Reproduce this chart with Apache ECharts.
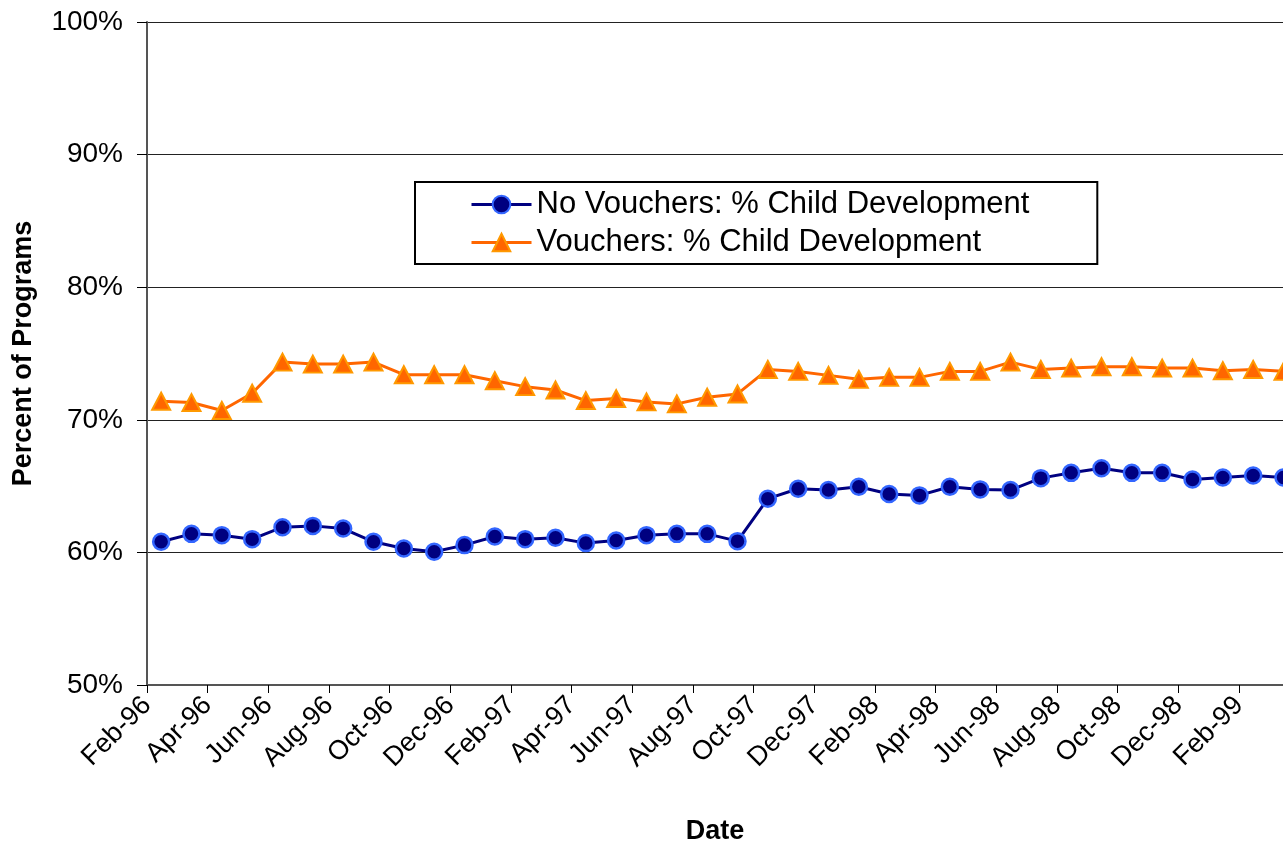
<!DOCTYPE html>
<html>
<head>
<meta charset="utf-8">
<script src="https://cdn.jsdelivr.net/npm/echarts@6/dist/echarts.min.js"></script>
<style>
  html, body { margin: 0; padding: 0; background: #fff; }
  #chart { width: 1283px; height: 848px; }
</style>
</head>
<body>
<div id="chart"></div>
<script>
// one point per month, plotted around the 15th
const months = [
  '1996-02', '1996-03', '1996-04', '1996-05', '1996-06', '1996-07', '1996-08', '1996-09', '1996-10', '1996-11', '1996-12',
  '1997-01', '1997-02', '1997-03', '1997-04', '1997-05', '1997-06', '1997-07', '1997-08', '1997-09', '1997-10', '1997-11', '1997-12',
  '1998-01', '1998-02', '1998-03', '1998-04', '1998-05', '1998-06', '1998-07', '1998-08', '1998-09', '1998-10', '1998-11', '1998-12',
  '1999-01', '1999-02', '1999-03'
]
const noVouchers = [
  60.8, 61.4, 61.3, 61.0, 61.9, 62.0, 61.8, 60.8, 60.3, 60.05,
  60.55, 61.2, 61.0, 61.1, 60.7, 60.9, 61.3, 61.4, 61.4, 60.85,
  64.05, 64.8, 64.7, 64.95, 64.4, 64.3, 64.95, 64.75, 64.7, 65.6,
  66.0, 66.35, 66.0, 66.0, 65.5, 65.65, 65.8, 65.65
]
const vouchers = [
  71.4, 71.3, 70.7, 72.0, 74.35, 74.2, 74.2, 74.35, 73.4, 73.4,
  73.4, 72.95, 72.5, 72.25, 71.45, 71.6, 71.35, 71.2, 71.7, 71.95,
  73.8, 73.65, 73.35, 73.05, 73.2, 73.2, 73.65, 73.65, 74.35, 73.8,
  73.9, 74.0, 74.0, 73.9, 73.9, 73.7, 73.8, 73.65
]
const monthNames = ['Jan', 'Feb', 'Mar', 'Apr', 'May', 'Jun', 'Jul', 'Aug', 'Sep', 'Oct', 'Nov', 'Dec']

const startYear = 1996
const startMonth = 2
const dayOffset = 14 / 30

// month index counted from Feb-96
const toX = (ym) => {
  const [y, m] = ym.split('-').map(Number)
  return (y - startYear) * 12 + (m - startMonth) + dayOffset
}

const tickLabel = (v) => {
  if (Math.abs(v - Math.round(v)) > 1e-6) return ''
  const total = startMonth - 1 + Math.round(v)
  const yy = (startYear + Math.floor(total / 12)) % 100
  return monthNames[total % 12] + '-' + String(yy).padStart(2, '0')
}

const font = 'Liberation Sans, Arial, sans-serif'

const chart = echarts.init(document.getElementById('chart'))

const option = {
  animation: false,
  backgroundColor: '#fff',
  textStyle: { fontFamily: font },
  grid: {
    left: 147,
    top: 22,
    right: 0,
    bottom: 163,
    outerBoundsMode: 'none',
  },
  legend: {
    left: 415,
    top: 182,
    orient: 'vertical',
    borderColor: '#000',
    borderWidth: 2,
    backgroundColor: '#fff',
    padding: [7, 68, 6, 55],
    itemGap: 7,
    itemWidth: 60,
    itemHeight: 22,
    lineStyle: { width: 3 },
    textStyle: { fontSize: 31, color: '#000', fontFamily: font },
    data: ['No Vouchers: % Child Development', 'Vouchers: % Child Development'],
  },
  xAxis: {
    type: 'value',
    min: 0,
    max: 37.45,
    interval: 2,
    name: 'Date',
    nameLocation: 'middle',
    nameGap: 133,
    nameTextStyle: { fontSize: 27, fontWeight: 'bold', color: '#000' },
    axisLine: { show: true, onZero: false, lineStyle: { color: '#555', width: 2 } },
    axisTick: { show: true, length: 8, lineStyle: { color: '#000', width: 1 } },
    axisLabel: {
      rotate: 45,
      fontSize: 27,
      color: '#000',
      margin: 16,
      showMaxLabel: false,
      formatter: tickLabel,
    },
    splitLine: { show: false },
  },
  yAxis: {
    type: 'value',
    min: 50,
    max: 100,
    interval: 10,
    name: 'Percent of Programs',
    nameLocation: 'middle',
    nameGap: 110,
    nameTextStyle: { fontSize: 27, fontWeight: 'bold', color: '#000' },
    axisLine: { show: true, lineStyle: { color: '#555', width: 2 } },
    axisTick: { show: true, length: 10, lineStyle: { color: '#000', width: 1 } },
    axisLabel: {
      fontSize: 28,
      color: '#000',
      margin: 24,
      formatter: '{value}%',
    },
    splitLine: { show: true, lineStyle: { color: '#222', width: 1 } },
  },
  series: [
    {
      name: 'No Vouchers: % Child Development',
      type: 'line',
      data: months.map((m, i) => [toX(m), noVouchers[i]]),
      clip: false,
      symbol: 'circle',
      symbolSize: 16,
      lineStyle: { color: '#000080', width: 3 },
      itemStyle: { color: '#000080', borderColor: '#3366ff', borderWidth: 2.5 },
    },
    {
      name: 'Vouchers: % Child Development',
      type: 'line',
      data: months.map((m, i) => [toX(m), vouchers[i]]),
      clip: false,
      symbol: 'triangle',
      symbolSize: [18, 17],
      lineStyle: { color: '#ff6600', width: 3 },
      itemStyle: { color: '#ff6600', borderColor: '#ff9900', borderWidth: 2 },
    },
  ],
}

chart.setOption(option)
</script>
</body>
</html>
